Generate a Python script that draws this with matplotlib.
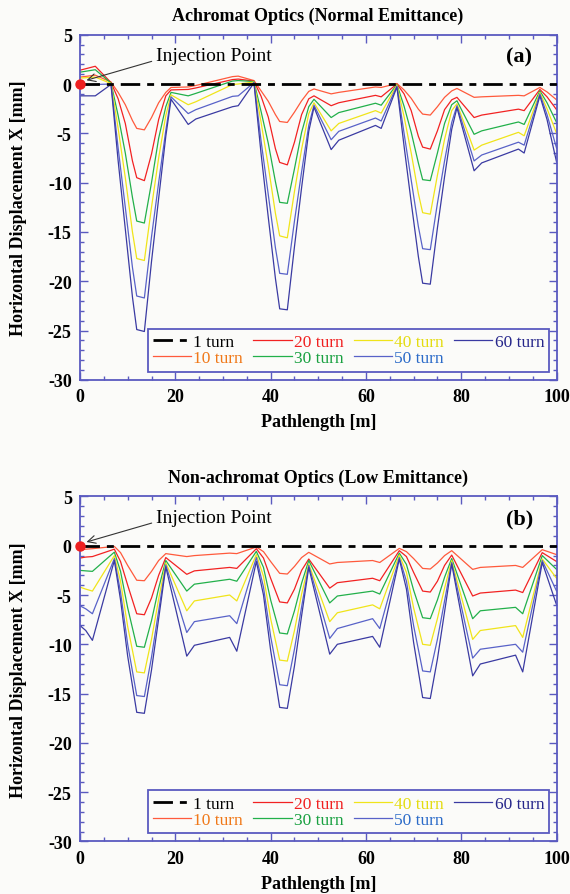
import matplotlib
matplotlib.use('Agg')
import matplotlib.pyplot as plt
from matplotlib.ticker import MultipleLocator

plt.rcParams['font.family'] = 'serif'
plt.rcParams['font.serif'] = ['Liberation Serif', 'DejaVu Serif']
plt.rcParams['axes.unicode_minus'] = False

# ---- data: panel (a), achromat optics ----
xa = [0, 3.2, 6.5, 8, 9.5, 11, 11.9, 13.5, 15, 16.5, 18, 19.1, 22.7, 24.3, 32.0, 33.2,
      36.5, 38, 39.5, 41, 41.9, 43.5, 45, 46.5, 48, 49.1, 52.7, 54.3, 62.0, 63.2,
      66.5, 68, 69.5, 71, 71.9, 73.5, 75, 76.5, 78, 79.1, 82.7, 84.3, 92.0, 93.2,
      96.5, 98, 100]
a10 = [0.7, 0.9, 0.2, -0.85, -2.1, -3.7, -4.5, -4.65, -3.4, -1.9, -0.85, -0.35, -0.3, -0.15, 0.75, 0.8,
       0.35, -0.7, -1.75, -3.1, -3.8, -3.9, -2.85, -1.7, -0.75, -0.5, -1.0, -0.85, -0.3, -0.35,
       0.05, -0.6, -1.45, -2.55, -3.05, -3.15, -2.3, -1.35, -0.7, -0.45, -1.35, -1.3, -1.15, -1.2,
       -0.35, -0.8, -1.6]
a20 = [1.4, 1.8, 0.15, -1.5, -4.0, -7.8, -9.5, -9.8, -7.1, -3.6, -1.2, -0.6, -0.55, -0.4, 0.45, 0.5,
       0.3, -1.25, -3.35, -6.55, -7.95, -8.2, -5.9, -3.1, -1.5, -1.2, -2.2, -1.9, -1.15, -1.3,
       0.0, -1.0, -2.7, -5.3, -6.4, -6.6, -4.75, -2.6, -1.6, -1.35, -3.4, -3.15, -2.55, -2.7,
       -0.55, -1.3, -2.6]
a30 = [1.2, 1.45, 0.1, -3.2, -7.0, -11.5, -13.9, -14.1, -10.0, -5.5, -2.3, -0.85, -1.2, -0.95, 0.3, 0.35,
       0.25, -2.8, -6.0, -9.9, -12.0, -12.1, -8.6, -4.9, -2.3, -1.55, -3.4, -2.9, -1.95, -2.15,
       -0.05, -2.25, -4.9, -8.0, -9.7, -9.8, -7.0, -4.0, -2.1, -1.7, -5.1, -4.75, -3.85, -4.1,
       -0.7, -1.9, -3.9]
a40 = [0.6, 0.7, 0.05, -4.5, -9.5, -15.0, -17.7, -17.9, -12.5, -7.5, -3.2, -1.1, -2.1, -1.8, -0.05, 0.0,
       0.2, -3.9, -8.3, -13.1, -15.4, -15.6, -10.9, -6.6, -3.0, -1.9, -4.75, -4.0, -2.7, -2.95,
       -0.1, -3.3, -7.0, -11.1, -13.05, -13.2, -9.25, -5.6, -2.7, -2.0, -6.7, -6.2, -4.9, -5.25,
       -0.85, -2.5, -5.0]
a50 = [-0.1, -0.05, 0.0, -6.5, -12.5, -18.6, -21.5, -21.7, -15.5, -10.0, -4.7, -1.3, -3.0, -2.6, -1.25, -1.2,
       0.15, -5.8, -11.2, -16.6, -19.2, -19.3, -13.9, -8.9, -4.2, -2.15, -5.65, -4.8, -3.45, -3.75,
       -0.2, -5.0, -9.75, -14.45, -16.7, -16.8, -12.1, -7.8, -3.9, -2.2, -7.8, -7.2, -5.9, -6.2,
       -1.0, -3.1, -6.5]
a60 = [-1.2, -1.2, -0.05, -7.8, -14.7, -21.6, -24.9, -25.1, -18.0, -11.6, -5.3, -1.55, -4.1, -3.55, -2.3, -2.2,
       0.1, -7.1, -13.5, -19.7, -22.8, -22.9, -16.5, -10.5, -4.8, -2.35, -6.65, -5.7, -4.2, -4.5,
       -0.3, -6.3, -12.0, -17.5, -20.2, -20.3, -14.6, -9.4, -4.6, -2.4, -8.8, -8.0, -6.6, -7.0,
       -1.2, -3.6, -7.9]

# ---- data: panel (b), non-achromat optics ----
xb = [0, 1.2, 2.6, 7.2, 8.5, 10, 11.9, 13.5, 15, 16.5, 18, 22.4, 24, 31.4, 32.9,
      37.0, 38.5, 40, 41.9, 43.5, 45, 46.5, 48, 52.4, 54, 61.4, 62.9,
      67.0, 68.5, 70, 71.9, 73.5, 75, 76.5, 78, 82.4, 84, 91.4, 92.9,
      97.0, 100]
b10 = [-0.4, -0.35, -0.3, -0.07, -0.7, -2.0, -3.5, -3.55, -2.6, -1.5, -0.8, -1.1, -1.0, -0.75, -0.8,
       -0.13, -0.6, -1.6, -2.8, -2.87, -2.1, -1.2, -0.67, -1.85, -1.7, -1.5, -1.7,
       -0.27, -0.6, -1.3, -2.3, -2.36, -1.75, -1.0, -0.5, -2.4, -2.2, -2.0, -2.2,
       -0.4, -0.9]
b20 = [-1.25, -1.15, -1.1, -0.35, -1.6, -4.0, -6.9, -7.0, -5.3, -3.0, -1.2, -2.9, -2.55, -2.2, -2.3,
       -0.3, -1.25, -3.3, -5.7, -5.8, -4.4, -2.5, -1.35, -4.3, -3.75, -3.3, -3.55,
       -0.5, -1.1, -2.7, -4.6, -4.7, -3.6, -2.0, -0.95, -5.1, -4.8, -4.5, -4.75,
       -0.7, -1.6]
b30 = [-2.5, -2.55, -2.6, -0.65, -2.6, -6.3, -10.2, -10.3, -7.6, -4.3, -1.5, -4.6, -3.9, -3.4, -3.6,
       -0.57, -2.2, -5.5, -8.85, -8.95, -6.6, -3.8, -1.5, -5.8, -5.1, -4.6, -4.9,
       -0.75, -1.9, -4.5, -7.3, -7.4, -5.5, -3.2, -1.3, -7.4, -6.6, -6.25, -6.9,
       -1.0, -2.4]
b40 = [-4.2, -4.4, -4.6, -1.0, -3.6, -8.2, -12.8, -12.9, -9.5, -5.4, -1.75, -6.6, -5.6, -5.0, -5.6,
       -0.9, -3.1, -7.4, -11.6, -11.7, -8.6, -4.9, -1.85, -7.7, -6.8, -6.0, -6.4,
       -0.95, -2.7, -6.3, -10.0, -10.1, -7.4, -4.3, -1.5, -9.5, -8.6, -8.1, -9.3,
       -1.35, -3.3]
b50 = [-6.1, -6.4, -6.9, -1.3, -4.7, -10.0, -15.2, -15.3, -11.3, -6.6, -1.95, -8.8, -7.7, -7.1, -7.9,
       -1.2, -4.2, -9.2, -14.1, -14.2, -10.5, -6.2, -2.0, -9.4, -8.4, -7.4, -8.4,
       -1.2, -3.6, -8.1, -12.7, -12.8, -9.5, -5.6, -1.7, -11.4, -10.5, -10.0, -10.8,
       -1.5, -4.6]
b60 = [-8.1, -8.6, -9.6, -1.5, -5.5, -11.2, -16.9, -17.0, -12.6, -7.4, -2.15, -11.2, -10.1, -9.3, -10.7,
       -1.6, -5.0, -10.6, -16.4, -16.5, -12.2, -7.1, -2.2, -11.0, -10.0, -9.2, -10.3,
       -1.35, -4.4, -9.8, -15.4, -15.5, -11.5, -6.7, -1.85, -13.2, -12.0, -11.1, -12.8,
       -1.7, -6.0]

turns = ['10 turn', '20 turn', '30 turn', '40 turn', '50 turn', '60 turn']
line_colors = ['#ff5a3c', '#f22222', '#22b04a', '#f0e41a', '#5862c8', '#3a3aa2']
text_colors = ['#f07818', '#f02020', '#18a040', '#e4dc10', '#2a6ac8', '#26268a']
frame = '#5a5ac0'

fig = plt.figure(figsize=(5.7, 8.95), dpi=100, facecolor='#fbfbf9')
ax_a = fig.add_axes([0.1404, 0.5745, 0.836, 0.3856])
ax_b = fig.add_axes([0.1404, 0.0587, 0.836, 0.3855])

panels = [
    (ax_a, xa, [a10, a20, a30, a40, a50, a60], 'Achromat Optics (Normal Emittance)', '(a)', 0.982),
    (ax_b, xb, [b10, b20, b30, b40, b50, b60], 'Non-achromat Optics (Low Emittance)', '(b)', 0.466),
]

for ax, x, series, title, tag, ty in panels:
    ax.set_facecolor('#fbfbf9')
    h1, = ax.plot([0, 100], [0, 0], color='black', lw=2.0,
                  linestyle=(0, (7, 2.5, 2.5, 2.5)), label='1 turn', zorder=3)
    handles = [h1]
    for y, lab, c in zip(series, turns, line_colors):
        h, = ax.plot(x, y, color=c, lw=0.9, label=lab)
        handles.append(h)
    ax.plot([0], [0], 'o', color='#ee2020', ms=6.5, clip_on=False, zorder=5)

    ax.set_xlim(0, 100)
    ax.set_ylim(-30, 5)
    ax.xaxis.set_major_locator(MultipleLocator(20))
    ax.xaxis.set_minor_locator(MultipleLocator(5))
    ax.yaxis.set_major_locator(MultipleLocator(5))
    ax.yaxis.set_minor_locator(MultipleLocator(1))
    ax.tick_params(which='both', direction='in', top=True, right=True, color=frame)
    ax.tick_params(which='major', length=6, width=1.0, labelsize=13, pad=6)
    ax.tick_params(which='minor', length=3, width=1.0)
    for lbl in ax.get_xticklabels() + ax.get_yticklabels():
        lbl.set_fontweight('bold')
    for sp in ax.spines.values():
        sp.set_color(frame)
        sp.set_linewidth(1.3)

    ax.set_xlabel('Pathlength [m]', fontsize=13, fontweight='bold', labelpad=6)
    ax.set_ylabel('Horizontal Displacement X [mm]', fontsize=13, fontweight='bold')
    ax.yaxis.set_label_coords(-0.111, 0.5)
    fig.text(0.558, ty, title, ha='center', va='center', fontsize=13, fontweight='bold')
    ax.text(92.2, 2.75, tag, ha='center', va='center', fontsize=16, fontweight='bold')
    ax.annotate('Injection Point', xy=(0.8, 0.3), xytext=(15.9, 2.85),
                ha='left', va='center', fontsize=14,
                arrowprops=dict(arrowstyle='->', lw=0.8, color='#333333',
                                relpos=(0.0, 0.25), shrinkA=1, shrinkB=2))

    leg = ax.legend(handles=handles, ncol=4, loc='lower right',
                    bbox_to_anchor=(0.985, 0.024), fontsize=12.5,
                    handlelength=2.2, handletextpad=0.12, columnspacing=0.6,
                    labelspacing=0.0, borderpad=0.3, borderaxespad=0,
                    fancybox=False, framealpha=1, facecolor='#fbfbf9', edgecolor=frame)
    leg.get_frame().set_linewidth(1.3)
    for txt, c in zip(leg.get_texts(), ['black'] + text_colors):
        txt.set_color(c)

fig.savefig('out.png', dpi=100, facecolor=fig.get_facecolor())
